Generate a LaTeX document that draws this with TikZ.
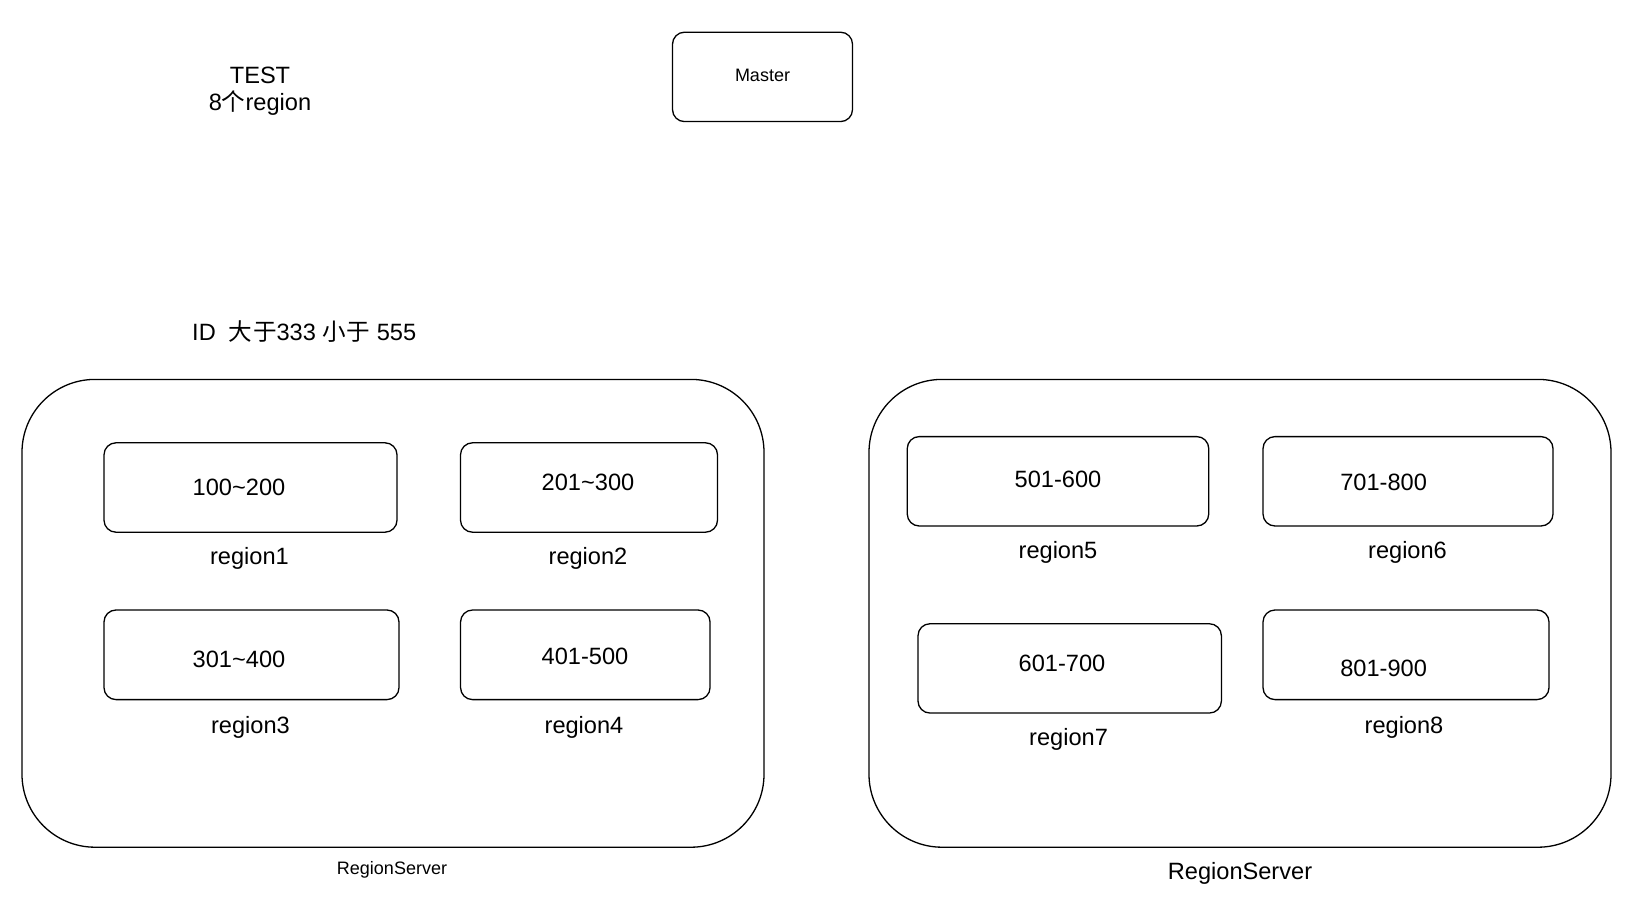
\documentclass[tikz,border=0pt]{standalone}
\usepackage{fontspec}
\setmainfont{Liberation Sans}
\newfontfamily\cjk{Noto Sans CJK SC}
\begin{document}
\begin{tikzpicture}[x=1pt,y=-1pt,
  rbox/.style={draw=black,line width=1.3pt,rounded corners=12pt,fill=white,inner sep=0pt},
  bigbox/.style={draw=black,line width=1.3pt,rounded corners=73pt,inner sep=0pt},
  bigtxt/.style={inner sep=0pt,font=\fontsize{23.6}{27}\selectfont,yshift=-2.8pt},
  numtxt/.style={inner sep=0pt,font=\fontsize{23.6}{27}\selectfont,yshift=-1.2pt},
  smalltxt/.style={inner sep=0pt,font=\fontsize{18}{22}\selectfont,yshift=-2.5pt}]
\useasboundingbox[fill=white] (0,0) rectangle (1630,909);
% title texts
\node[bigtxt,align=center] (title) at (260,88) {TEST\\8{\cjk 个}region};
\node[bigtxt,anchor=west,yshift=3pt] (cond) at (192,331.6) {ID\ \ {\cjk 大\kern0.5pt 于}333 {\cjk 小\kern0.5pt 于} 555};
% master
\node[rbox,minimum width=180pt,minimum height=89.4pt] (master) at (762.5,76.9) {};
\node[smalltxt,yshift=3pt] (mastert) at (762.5,76) {Master};
% region servers
\node[bigbox,minimum width=742pt,minimum height=467.8pt] (rsL) at (393,613.3) {};
\node[bigbox,minimum width=742pt,minimum height=467.8pt] (rsR) at (1240,613.3) {};
\node[smalltxt] (rsLt) at (392,867) {RegionServer};
\node[bigtxt] (rsRt) at (1240,871) {RegionServer};
% regions
\node[rbox,minimum width=293pt,minimum height=89.4pt] (r1) at (250.5,487.5) {};
\node[rbox,minimum width=257pt,minimum height=89.4pt] (r2) at (589,487.5) {};
\node[rbox,minimum width=295pt,minimum height=89.6pt] (r3) at (251.5,654.8) {};
\node[rbox,minimum width=249.5pt,minimum height=89.6pt] (r4) at (585.3,654.8) {};
\node[rbox,minimum width=301.5pt,minimum height=89.4pt] (r5) at (1058,481.3) {};
\node[rbox,minimum width=290pt,minimum height=89.4pt] (r6) at (1408,481.3) {};
\node[rbox,minimum width=303.4pt,minimum height=89.3pt] (r7) at (1069.7,668.4) {};
\node[rbox,minimum width=286pt,minimum height=89.6pt] (r8) at (1406,654.8) {};
% range texts
\node[numtxt] (t1) at (239,486.5) {100\textasciitilde200};
\node[numtxt] (t2) at (588,481) {201\textasciitilde300};
\node[numtxt] (t3) at (239,658) {301\textasciitilde400};
\node[numtxt] (t4) at (585,655) {401-500};
\node[numtxt] (t5) at (1058,478) {501-600};
\node[numtxt] (t6) at (1383.6,481) {701-800};
\node[numtxt] (t7) at (1062,662) {601-700};
\node[numtxt] (t8) at (1383.6,667) {801-900};
% region labels
\node[bigtxt] (l1) at (249.5,556) {region1};
\node[bigtxt] (l2) at (588,556) {region2};
\node[bigtxt] (l3) at (250.5,724.5) {region3};
\node[bigtxt] (l4) at (584,724.5) {region4};
\node[bigtxt] (l5) at (1058,550) {region5};
\node[bigtxt] (l6) at (1407.5,550) {region6};
\node[bigtxt] (l7) at (1068.6,737) {region7};
\node[bigtxt] (l8) at (1404,724.5) {region8};
\end{tikzpicture}
\end{document}
